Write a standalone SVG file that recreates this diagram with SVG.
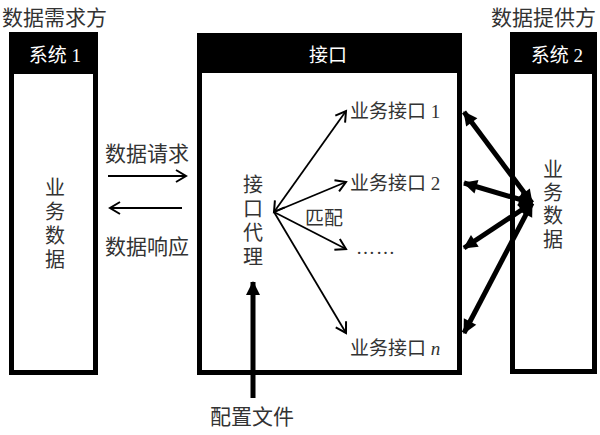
<svg xmlns="http://www.w3.org/2000/svg" width="600" height="435" viewBox="0 0 600 435">
<style>
text{font-family:"Liberation Serif","Noto Sans CJK SC",serif;fill:#333}
.t{font-size:21px}
.l{font-size:19px}
.h{font-size:19px;fill:#fff;text-anchor:middle}
.box{fill:#fff;stroke:#000;stroke-width:5}
.hd{fill:#000}
.thin{stroke:#000;stroke-width:1.8;fill:none}
.mid{stroke:#000;stroke-width:2.2;fill:none}
.thick{stroke:#000;stroke-width:5;fill:none}
.v{text-anchor:middle;font-size:20px}
</style>
<defs>
<marker id="open" markerUnits="userSpaceOnUse" markerWidth="16" markerHeight="16" refX="12" refY="8" orient="auto-start-reverse" viewBox="0 0 16 16">
<path d="M2,2 L12,8 L2,14" fill="none" stroke="#000" stroke-width="2"/>
</marker>
<marker id="fill" markerUnits="userSpaceOnUse" markerWidth="18" markerHeight="18" refX="14" refY="9" orient="auto-start-reverse" viewBox="0 0 18 18">
<path d="M1,2 L15,9 L1,16 Z" fill="#000"/>
</marker>
</defs>

<text class="t" x="2" y="25">数据需求方</text>
<text class="t" x="596" y="25" font-size="19" text-anchor="end">数据提供方</text>

<g id="system1">
<rect class="box" x="11.5" y="34.5" width="84" height="338"/>
<rect class="hd" x="9" y="32" width="89" height="42"/>
<text class="h" x="55" y="62">系统 1</text>
<text class="v" x="55" y="195">业<tspan x="55" dy="24">务</tspan><tspan x="55" dy="24">数</tspan><tspan x="55" dy="24">据</tspan></text>
</g>

<g id="interface">
<rect class="box" x="199.5" y="35.5" width="260" height="337"/>
<rect class="hd" x="197" y="33" width="265" height="40"/>
<text class="h" x="328" y="62">接口</text>
<text class="v" x="253" y="192">接<tspan x="253" dy="24">口</tspan><tspan x="253" dy="24">代</tspan><tspan x="253" dy="24">理</tspan></text>
<text class="l" x="350" y="118">业务接口 1</text>
<text class="l" x="350" y="190">业务接口 2</text>
<text class="l" x="356" y="254" letter-spacing="1">……</text>
<text class="l" x="350" y="355">业务接口 <tspan font-style="italic">n</tspan></text>
<text class="l" x="305" y="225">匹配</text>
</g>

<g id="system2">
<rect class="box" x="512.5" y="34.5" width="82" height="337"/>
<rect class="hd" x="510" y="32" width="87" height="42"/>
<text class="h" x="557" y="62">系统 2</text>
<text class="v" x="553" y="177">业<tspan x="553" dy="23">务</tspan><tspan x="553" dy="23">数</tspan><tspan x="553" dy="24">据</tspan></text>
</g>

<text class="t" x="105" y="161" font-size="20">数据请求</text>
<text class="t" x="105" y="254" font-size="20">数据响应</text>
<text class="t" x="210" y="424">配置文件</text>

<g id="connectors">
<line class="mid" x1="108" y1="176" x2="186" y2="176" marker-end="url(#open)"/>
<line class="mid" x1="182" y1="208" x2="110" y2="208" marker-end="url(#open)"/>
<line class="thin" x1="274" y1="212" x2="346" y2="111" marker-end="url(#open)" marker-start="url(#open)"/>
<line class="thin" x1="274" y1="212" x2="346" y2="182" marker-end="url(#open)"/>
<line class="thin" x1="274" y1="212" x2="346" y2="249" marker-end="url(#open)"/>
<line class="thin" x1="274" y1="212" x2="346" y2="333" marker-end="url(#open)"/>
<line class="thick" x1="253" y1="398" x2="253" y2="282" marker-end="url(#fill)"/>
<line class="thick" x1="532" y1="203" x2="464" y2="112" marker-end="url(#fill)" marker-start="url(#fill)"/>
<line class="thick" x1="532" y1="203" x2="464" y2="183" marker-end="url(#fill)" marker-start="url(#fill)"/>
<line class="thick" x1="532" y1="203" x2="464" y2="248" marker-end="url(#fill)" marker-start="url(#fill)"/>
<line class="thick" x1="532" y1="203" x2="464" y2="333" marker-end="url(#fill)" marker-start="url(#fill)"/>
</g>
</svg>
